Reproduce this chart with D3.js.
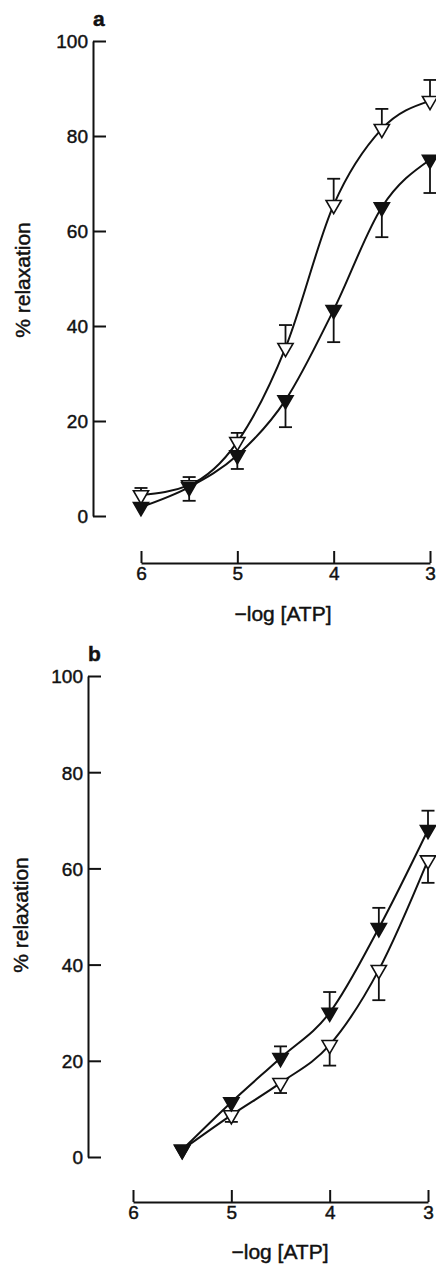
<!DOCTYPE html>
<html>
<head>
<meta charset="utf-8">
<script src="https://cdn.jsdelivr.net/npm/d3@7"></script>
<style>
  body { margin: 0; background: #fff; }
  text { font-family: "Liberation Sans", Arial, sans-serif; fill: #111; stroke: #111; stroke-width: 0.45px; }
</style>
</head>
<body>
<div id="chart"></div>
<script>
// x values are -log[ATP]
let xTicks = [6, 5, 4, 3];
let yTicks = [0, 20, 40, 60, 80, 100];

// Panel a
let aOpenX = [6, 5.5, 5, 4.5, 4, 3.5, 3];
let aOpenY = [4.4, 6.5, 15.6, 35.4, 65.5, 81.5, 87.4];
let aOpenErr = [1.5, 1.7, 1.9, 4.8, 5.5, 4.2, 4.4];
let aFilledX = [6, 5.5, 5, 4.5, 4, 3.5, 3];
let aFilledY = [1.9, 6.1, 12.8, 24.4, 43.4, 65, 75];
let aFilledErr = [0, 2.9, 2.9, 5.7, 6.8, 6.3, 7];

// Panel b
let bOpenX = [5.5, 5, 4.5, 4, 3.5, 3];
let bOpenY = [1.5, 8.7, 15.4, 23.3, 38.9, 61.7];
let bOpenErr = [0, 1.4, 2.1, 4.3, 6.3, 4.7];
let bFilledX = [5.5, 5, 4.5, 4, 3.5, 3];
let bFilledY = [1.5, 11.4, 20.6, 30, 47.6, 68];
let bFilledErr = [0, 0, 2.4, 4.3, 4.2, 4];

let W = 436, H = 1265;
let svg = d3.select("#chart").append("svg")
	.attr("width", W)
	.attr("height", H);

// Build point lists from the arrays
function pts(xs, ys, es, dir) {
	return xs.map(function (x, i) {
		return { x: x, y: ys[i], e: es[i], dir: dir };
	});
}

let panels = [
	{
		letter: "a", letterX: 93, letterY: 26,
		x0: 141, x1: 430, y0: 516, y100: 41, axisX: 93, xAxisY: 563,
		ylabX: 30, ylabY: 280, xlabX: 283, xlabY: 621,
		series: [
			{ data: pts(aOpenX, aOpenY, aOpenErr, 1), filled: false },
			{ data: pts(aFilledX, aFilledY, aFilledErr, -1), filled: true }
		]
	},
	{
		letter: "b", letterX: 88, letterY: 661,
		x0: 133, x1: 428, y0: 1157, y100: 676, axisX: 88, xAxisY: 1202,
		ylabX: 28, ylabY: 915, xlabX: 280, xlabY: 1259,
		series: [
			{ data: pts(bOpenX, bOpenY, bOpenErr, -1), filled: false },
			{ data: pts(bFilledX, bFilledY, bFilledErr, 1), filled: true }
		]
	}
];

let tri = d3.symbol().type(d3.symbolTriangle).size(100);

panels.forEach(function (p) {
	let x = d3.scaleLinear().domain([6, 3]).range([p.x0, p.x1]);
	let y = d3.scaleLinear().domain([0, 100]).range([p.y0, p.y100]);
	let g = svg.append("g");

	// y axis, ticks pointing inward
	let ya = g.append("g")
		.attr("transform", "translate(" + p.axisX + ",0)")
		.call(d3.axisLeft(y).tickValues(yTicks).tickSize(-13).tickSizeOuter(0).tickPadding(5));
	ya.selectAll("text").style("font-size", "19px").attr("dy", "0.36em");

	// x axis, ticks pointing up
	let xa = g.append("g")
		.attr("transform", "translate(0," + p.xAxisY + ")")
		.call(d3.axisBottom(x).tickValues(xTicks).tickFormat(d3.format("d"))
			.tickSize(-12).tickSizeOuter(0).tickPadding(4));
	xa.selectAll("text").style("font-size", "19px");

	g.selectAll(".domain, .tick line").attr("stroke", "#111").attr("stroke-width", 2);

	// Axis titles and panel letter
	g.append("text")
		.attr("transform", "translate(" + p.ylabX + "," + p.ylabY + ") rotate(-90)")
		.attr("text-anchor", "middle")
		.style("font-size", "21px")
		.text("% relaxation");
	g.append("text")
		.attr("x", p.xlabX).attr("y", p.xlabY)
		.attr("text-anchor", "middle")
		.style("font-size", "21px")
		.text("\u2212log [ATP]");
	g.append("text")
		.attr("x", p.letterX).attr("y", p.letterY)
		.style("font-size", "21px").style("font-weight", "bold")
		.text(p.letter);

	let line = d3.line()
		.x(function (d) { return x(d.x); })
		.y(function (d) { return y(d.y); })
		.curve(d3.curveMonotoneX);

	p.series.forEach(function (s) {
		// fitted curve
		g.append("path")
			.datum(s.data)
			.attr("d", line)
			.attr("fill", "none")
			.attr("stroke", "#111")
			.attr("stroke-width", 2);

		// error bars (one-sided)
		let eb = g.append("g").selectAll("g")
			.data(s.data.filter(function (d) { return d.e > 0; }))
			.enter().append("g");
		eb.append("line")
			.attr("x1", function (d) { return x(d.x); })
			.attr("x2", function (d) { return x(d.x); })
			.attr("y1", function (d) { return y(d.y); })
			.attr("y2", function (d) { return y(d.y + d.dir * d.e); })
			.attr("stroke", "#111").attr("stroke-width", 1.8);
		eb.append("line")
			.attr("x1", function (d) { return x(d.x) - 6.5; })
			.attr("x2", function (d) { return x(d.x) + 6.5; })
			.attr("y1", function (d) { return y(d.y + d.dir * d.e); })
			.attr("y2", function (d) { return y(d.y + d.dir * d.e); })
			.attr("stroke", "#111").attr("stroke-width", 1.8);

		// down-pointing triangles
		g.append("g").selectAll("path")
			.data(s.data)
			.enter().append("path")
			.attr("d", tri)
			.attr("transform", function (d) {
				return "translate(" + x(d.x) + "," + y(d.y) + ") rotate(180)";
			})
			.attr("fill", s.filled ? "#111" : "#fff")
			.attr("stroke", "#111")
			.attr("stroke-width", 1.6);
	});
});
</script>
</body>
</html>
